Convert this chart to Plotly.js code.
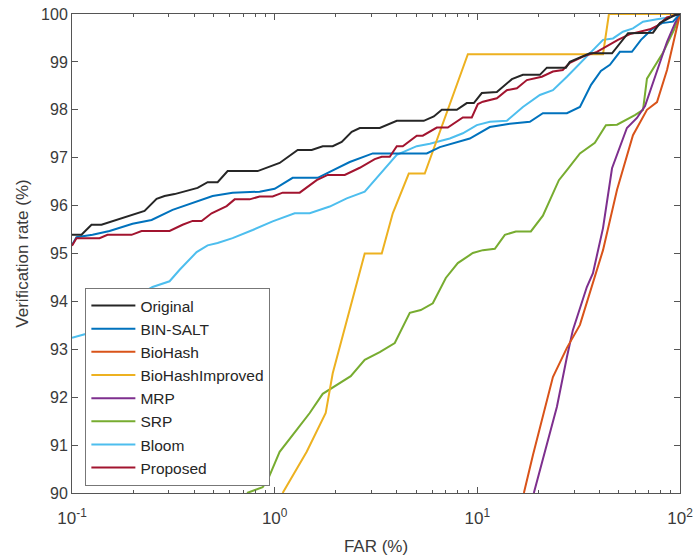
<!DOCTYPE html>
<html>
<head>
<meta charset="utf-8">
<script src="https://cdn.plot.ly/plotly-3.0.1.min.js"></script>
<style>html,body{margin:0;padding:0;background:#fff;}#chart{width:696px;height:558px;}</style>
</head>
<body>
<div id="chart"></div>
<script>
// ---- data (FAR in %, verification rate in %) ----
const originalFAR = [0.1,0.1114,0.1248,0.1398,0.228,0.2615,0.2862,0.3208,0.4166,0.4668,0.523,0.586,0.824,1.058,1.299,1.523,1.726,1.934,2.142,2.4,2.63,3.30,4.005,5.44,6.10,6.68,7.92,8.87,9.61,10.52,12.48,14.81,16.78,20.35,22.04,27.35,28.6,35.9,46.2,55.4,73.6,79.6,94.5,100];
const originalVR  = [95.39,95.39,95.6,95.6,95.89,96.14,96.2,96.24,96.37,96.49,96.49,96.72,96.72,96.89,97.16,97.16,97.24,97.24,97.33,97.54,97.62,97.62,97.77,97.77,97.86,98.0,98.0,98.14,98.14,98.35,98.37,98.64,98.73,98.73,98.88,98.88,99.0,99.18,99.18,99.6,99.61,99.81,99.98,100];

const binsaltFAR = [0.1,0.1052,0.1263,0.1532,0.199,0.247,0.3135,0.3936,0.494,0.620,0.843,1.0,1.227,1.631,2.346,3.048,5.63,6.53,9.18,11.53,14.47,18.16,21.06,27.67,32.08,36.4,40.7,45.1,50.5,57.9,64.2,72.7,81.5,92.3,100];
const binsaltVR  = [95.18,95.34,95.39,95.47,95.62,95.70,95.91,96.05,96.2,96.27,96.29,96.35,96.58,96.58,96.91,97.09,97.09,97.22,97.40,97.64,97.71,97.75,97.93,97.93,98.06,98.52,98.81,98.94,99.21,99.21,99.46,99.68,99.81,99.84,100];

const biohashFAR = [16.97,18.8,23.6,27.67,32.08,41.7,48.9,58.6,68.7,77.0,86.3,94.5,100];
const biohashVR  = [90.0,90.79,92.42,93.03,93.51,95.07,96.33,97.47,98.0,98.16,98.83,99.56,100];

const biohashImpFAR = [1.095,1.439,1.786,1.934,2.782,3.376,3.826,4.59,5.503,8.98,41.7,44.6,100];
const biohashImpVR  = [90.0,90.86,91.67,92.5,95.0,95.0,95.84,96.67,96.67,99.16,99.16,100,100];

const mrpFAR = [19.0,21.5,24.7,27.67,29.6,34.7,37.2,41.7,46.2,54.7,61.3,67.2,77.0,86.3,94.5,100];
const mrpVR  = [90.0,90.84,91.80,92.84,93.40,94.30,94.59,95.53,96.78,97.62,97.83,98.08,98.79,99.42,99.81,100];

const srpFAR = [0.73,0.8723,0.9235,1.058,1.284,1.489,1.726,1.956,2.373,2.782,3.30,3.914,4.642,5.26,6.03,6.99,8.01,9.50,10.65,12.2,13.67,15.49,18.37,21.06,25.26,27.67,32.08,38.0,43.1,48.9,59.9,65.7,68.7,82.4,93.4,100];
const srpVR  = [90.0,90.12,90.27,90.86,91.32,91.67,92.07,92.21,92.44,92.78,92.94,93.13,93.76,93.82,93.96,94.49,94.80,95.01,95.07,95.10,95.39,95.46,95.46,95.79,96.53,96.74,97.09,97.31,97.68,97.69,97.89,98.0,98.65,99.19,99.67,100];

const bloomFAR = [0.1,0.1166,0.1923,0.2497,0.303,0.3397,0.412,0.4668,0.523,0.620,0.779,0.977,1.255,1.489,1.869,2.268,2.782,3.414,4.005,5.025,5.83,7.31,8.48,9.94,11.53,13.98,16.78,20.35,23.6,27.67,32.08,37.2,41.7,46.7,52.3,58.6,65.7,77.0,89.2,100];
const bloomVR  = [93.24,93.32,94.03,94.30,94.42,94.66,95.03,95.17,95.22,95.32,95.49,95.67,95.84,95.84,95.98,96.15,96.29,96.71,97.06,97.24,97.29,97.40,97.51,97.68,97.75,97.77,98.06,98.31,98.41,98.69,98.97,99.25,99.46,99.49,99.63,99.70,99.84,99.89,99.93,100];

const proposedFAR = [0.1,0.1052,0.1367,0.1497,0.1967,0.2204,0.303,0.3512,0.3936,0.4361,0.4885,0.5795,0.6346,0.7524,0.843,0.977,1.095,1.329,1.612,1.827,2.217,2.63,3.117,3.376,3.698,4.005,4.287,5.025,5.38,6.31,7.15,8.48,9.39,10.06,10.65,12.48,13.98,15.67,17.55,20.8,23.6,26.4,28.6,33.2,38.9,43.6,49.4,56.6,71.0,77.0,86.3,100];
const proposedVR  = [95.16,95.32,95.32,95.39,95.39,95.47,95.47,95.6,95.68,95.68,95.84,95.99,96.13,96.13,96.19,96.19,96.27,96.27,96.53,96.64,96.64,96.79,96.97,97.02,97.02,97.24,97.24,97.46,97.46,97.63,97.63,97.84,97.84,98.12,98.17,98.24,98.41,98.45,98.62,98.69,98.80,98.83,98.98,99.11,99.21,99.33,99.46,99.58,99.68,99.75,99.93,100];

const seriesNames = ["Original","BIN-SALT","BioHash","BioHashImproved","MRP","SRP","Bloom","Proposed"];
const seriesColors = ["#262626","#0072BD","#D95319","#EDB120","#7E2F8E","#77AC30","#4DBEEE","#A2142F"];
const seriesX = [originalFAR,binsaltFAR,biohashFAR,biohashImpFAR,mrpFAR,srpFAR,bloomFAR,proposedFAR];
const seriesY = [originalVR,binsaltVR,biohashVR,biohashImpVR,mrpVR,srpVR,bloomVR,proposedVR];

const xTickVals = [0.1,1,10,100];
const xTickText = ["10<sup>-1</sup>","10<sup>0</sup>","10<sup>1</sup>","10<sup>2</sup>"];
const xMinorVals = [0.2,0.3,0.4,0.5,0.6,0.7,0.8,0.9,2,3,4,5,6,7,8,9,20,30,40,50,60,70,80,90];
const yTickVals = [90,91,92,93,94,95,96,97,98,99,100];

// draw order: later traces on top
const order = [6,5,4,2,3,1,7,0];
const traces = [];
for (let i = 0; i < seriesNames.length; i++) {
  traces.push({
    x: seriesX[i], y: seriesY[i], name: seriesNames[i],
    type: "scatter", mode: "lines",
    line: {color: seriesColors[i], width: 2},
    legendrank: i + 1
  });
}
const ordered = order.map(k => traces[k]);

const axisColor = "#555555";
const fontFam = "Liberation Sans, Arial, sans-serif";
const layout = {
  width: 696, height: 558,
  margin: {l: 72, r: 16, t: 14, b: 65},
  paper_bgcolor: "#ffffff", plot_bgcolor: "#ffffff",
  font: {family: fontFam, size: 16, color: "#3a3a3a"},
  showlegend: true,
  legend: {
    x: 0.022, y: 0.428, xanchor: "left", yanchor: "top",
    bgcolor: "#ffffff", bordercolor: "#777777", borderwidth: 1,
    font: {family: fontFam, size: 15.5, color: "#262626"},
    itemwidth: 44,
    traceorder: "normal"
  },
  xaxis: {
    type: "log", range: [-1, 2],
    tickmode: "array", tickvals: xTickVals, ticktext: xTickText,
    ticks: "inside", ticklen: 6, tickcolor: axisColor,
    ticklabelstandoff: 10,
    minor: {tickmode: "array", tickvals: xMinorVals, ticks: "inside", ticklen: 3, tickcolor: axisColor, showgrid: false},
    showline: true, linecolor: axisColor, linewidth: 1, mirror: "allticks",
    showgrid: false, zeroline: false,
    tickfont: {size: 17, color: "#3a3a3a"},
    title: {text: "FAR (%)", font: {size: 17, color: "#3a3a3a"}, standoff: 12}
  },
  yaxis: {
    range: [90, 100],
    tickmode: "array", tickvals: yTickVals,
    ticks: "inside", ticklen: 6, tickcolor: axisColor,
    showline: true, linecolor: axisColor, linewidth: 1, mirror: "allticks",
    showgrid: false, zeroline: false,
    tickfont: {size: 16, color: "#3a3a3a"},
    title: {text: "Verification rate (%)", font: {size: 17, color: "#3a3a3a"}, standoff: 8}
  }
};
Plotly.newPlot("chart", ordered, layout, {displayModeBar: false, staticPlot: true});
</script>
</body>
</html>
